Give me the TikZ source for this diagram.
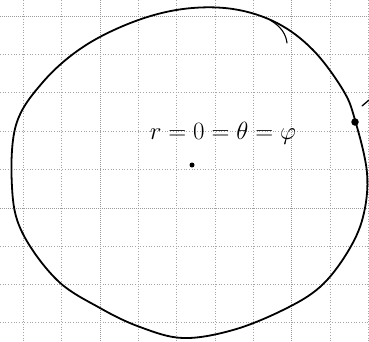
\documentclass[tikz,border=0pt]{standalone}
\begin{document}
\begin{tikzpicture}[x=1pt,y=-1pt,
  gridline/.style={gray!70,dotted,line width=0.7pt},
  majorline/.style={gray!80,densely dotted,line width=1pt},
  pen/.style={black,line width=1.8pt,line cap=round,line join=round}]
\useasboundingbox (0,0) rectangle (369,341);
\fill[white] (0,0) rectangle (369,341);
% grid
\foreach \x in {23.5,61.8,138.3,176.6,215,253,330,368}{\draw[gridline] (\x,0) -- (\x,341);}
\foreach \x in {100,291.5}{\draw[majorline] (\x,0) -- (\x,341);}
\foreach \y in {54.3,92.6,131,169,246,284,322.6}{\draw[gridline] (0,\y) -- (369,\y);}
\foreach \y in {16,208}{\draw[majorline] (0,\y) -- (369,\y);}
% closed curve
\draw[pen] plot[smooth cycle,tension=0.6] coordinates{
 (183,9) (233,9) (277,23) (313,50) (343,90) (355,120) (367,173) (363,217)
 (347,253) (320,287) (283,310) (233,330) (183,338) (140,327) (100,308)
 (57,280) (22,232) (12,187) (16,125) (43,82) (83,47) (133,22)};
% tail stroke
\draw[pen,line width=1.1pt] (270,20) .. controls (282,27) and (286,35) .. (287,43);
% point on curve
\node[circle,fill=black,inner sep=0pt,minimum size=7.5pt] (p) at (355,122) {};
\coordinate (m) at (369,100);
\draw[pen,line width=1.3pt] (362,106) -- (m);
% center dot
\node[circle,fill=black,inner sep=0pt,minimum size=5pt] (c) at (192,165) {};
% label
\node[inner sep=0pt,font=\fontsize{26}{30}\selectfont] (lab) at (223,133) {$r=0=\theta=\varphi$};
\end{tikzpicture}
\end{document}
